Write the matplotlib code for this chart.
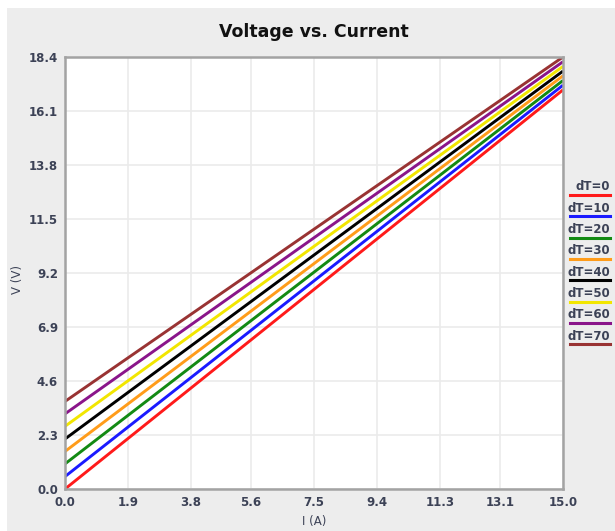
import numpy as np
import matplotlib
matplotlib.use('Agg')
import matplotlib.pyplot as plt
from matplotlib.patches import Rectangle

# data
current = [0.0, 15.0]
dT_labels = ['dT=0', 'dT=10', 'dT=20', 'dT=30', 'dT=40', 'dT=50', 'dT=60', 'dT=70']
v_start = [0.0, 0.53, 1.07, 1.60, 2.13, 2.67, 3.20, 3.73]
v_end = [17.0, 17.2, 17.4, 17.6, 17.8, 18.0, 18.2, 18.4]
colors = ['#ff1a1a', '#1a1aff', '#138a13', '#ff9c1a', '#000000', '#f2e600', '#8a158a', '#993333']
xticks = [0.0, 1.9, 3.8, 5.6, 7.5, 9.4, 11.3, 13.1, 15.0]
yticks = [0.0, 2.3, 4.6, 6.9, 9.2, 11.5, 13.8, 16.1, 18.4]

txtc = '#3c4256'

fig = plt.figure(figsize=(6.15, 5.31), dpi=100)
fig.patch.set_facecolor('white')
fig.patches.append(Rectangle((7/615, 0), 1, 1 - 8/531, transform=fig.transFigure,
                             facecolor='#ededed', edgecolor='none', zorder=-10))

ax = fig.add_axes([65/615, 42/531, 498/615, 432/531])
ax.set_facecolor('white')

for i in range(len(dT_labels)):
    ax.plot(current, [v_start[i], v_end[i]], color=colors[i], lw=2.1, solid_capstyle='butt')

ax.set_xlim(0, 15)
ax.set_ylim(0, 18.4)
ax.set_xticks(xticks)
ax.set_yticks(yticks)
ax.set_xticklabels(['%.1f' % t for t in xticks])
ax.set_yticklabels(['%.1f' % t for t in yticks])
ax.tick_params(length=0, pad=5, labelsize=8.5, labelcolor=txtc)
for lab in ax.get_xticklabels() + ax.get_yticklabels():
    lab.set_fontweight('bold')
ax.grid(True, color='#ebebeb', lw=1.2)
ax.set_axisbelow(True)
for s in ax.spines.values():
    s.set_color('#a3a3a3')
    s.set_linewidth(1.8)

fig.text(314/615, 1 - 32/531, 'Voltage vs. Current', ha='center', va='center',
         fontsize=12.5, fontweight='bold', color='#111111')
fig.text(314/615, 1 - 521/531, 'I (A)', ha='center', va='center', fontsize=8.5, color=txtc)
fig.text(18/615, 1 - 280/531, 'V (V)', ha='center', va='center', rotation=90,
         fontsize=8.5, color=txtc)

# legend at the right
for i in range(len(dT_labels)):
    ty = 187 + i * 21.3
    fig.text(610/615, 1 - ty/531, dT_labels[i], ha='right', va='center',
             fontsize=8.5, fontweight='bold', color=txtc)
    fig.add_artist(plt.Line2D([570/615, 610/615], [1 - (ty + 8)/531] * 2,
                              transform=fig.transFigure, color=colors[i], lw=2.2))

fig.savefig('out.png', dpi=100)
